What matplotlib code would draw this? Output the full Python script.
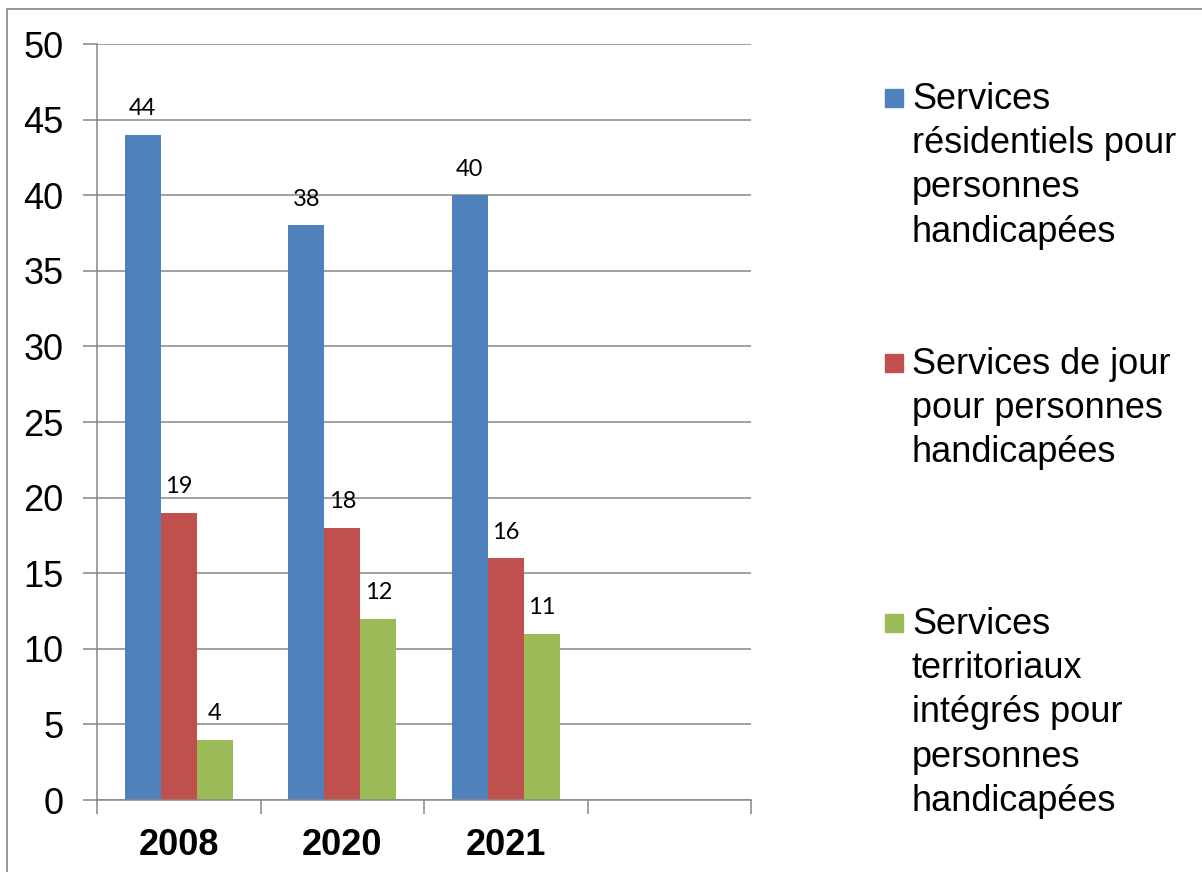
import numpy as np
import matplotlib.pyplot as plt
from matplotlib.patches import Rectangle

# data
years = ["2008", "2020", "2021", ""]
residentiels = [44, 38, 40]
jour = [19, 18, 16]
territoriaux = [4, 12, 11]

series_labels = [
    "Services\nrésidentiels pour\npersonnes\nhandicapées",
    "Services de jour\npour personnes\nhandicapées",
    "Services\nterritoriaux\nintégrés pour\npersonnes\nhandicapées",
]
colors = ["#4F81BD", "#C0504D", "#9BBB59"]
grey = "#868686"

fig = plt.figure(figsize=(12.02, 8.72), dpi=100)
ax = fig.add_axes([97 / 1202, 72 / 872, (751 - 97) / 1202, (800 - 44) / 872])

x = np.arange(len(residentiels))
width = 0.22
for i, (vals, col) in enumerate(zip([residentiels, jour, territoriaux], colors)):
    bars = ax.bar(x + (i - 1) * width, vals, width, color=col, zorder=3)
    for b, v in zip(bars, vals):
        ax.annotate(str(v), (b.get_x() + b.get_width() / 2, v), xytext=(0, 14),
                    textcoords="offset points", ha="center", va="baseline",
                    fontsize=17, family="Lato", color="black")

ax.set_xlim(-0.5, len(years) - 0.5)
ax.set_ylim(0, 50)
ax.set_yticks(np.arange(0, 51, 5))
ax.yaxis.grid(True, color=grey, linewidth=1.1, zorder=0)
ax.tick_params(axis="y", length=10, width=1.1, color=grey, pad=14,
               labelsize=26, labelfontfamily="Liberation Sans")

# category boundaries as ticks, labels at centres
ax.set_xticks(np.arange(len(years) + 1) - 0.5)
ax.set_xticklabels([])
ax.tick_params(axis="x", which="major", length=10, width=1.1, color=grey)
ax.set_xticks(np.arange(len(years)), minor=True)
ax.set_xticklabels(years, minor=True, fontsize=26, fontweight="bold",
                   family="Liberation Sans")
ax.tick_params(axis="x", which="minor", length=0, pad=20)

for s in ["top", "right"]:
    ax.spines[s].set_visible(False)
for s in ["left", "bottom"]:
    ax.spines[s].set_color(grey)
    ax.spines[s].set_linewidth(1.1)
ax.spines["bottom"].set_zorder(4)

# legend drawn by hand (uneven spacing)
legend_base = [107, 372, 632]   # baseline of first line, px from top
for lab, col, base in zip(series_labels, colors, legend_base):
    fig.add_artist(Rectangle((885 / 1202, 1 - base / 872), 18 / 1202, 18 / 872,
                             transform=fig.transFigure, color=col))
    fig.text(912 / 1202, 1 - (base - 25) / 872, lab, ha="left", va="top",
             fontsize=26, family="Liberation Sans", linespacing=1.34)

# outer frame
fig.add_artist(Rectangle((7 / 1202, -0.5), 1.5, 1.5 - 9 / 872,
                         transform=fig.transFigure, fill=False,
                         edgecolor=grey, linewidth=1.2))

fig.savefig("out.png", dpi=100)
